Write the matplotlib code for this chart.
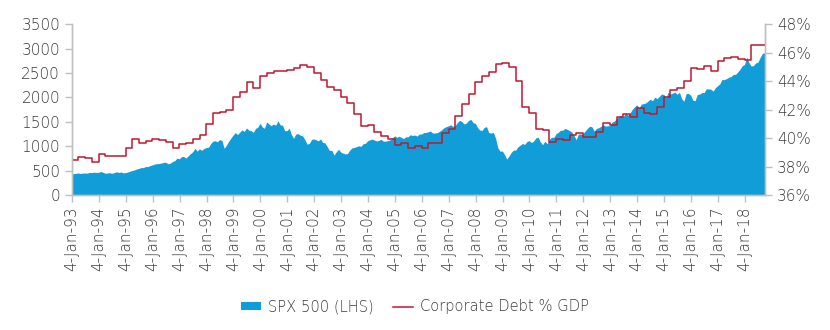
import matplotlib
matplotlib.use("Agg")
import matplotlib.pyplot as plt
import matplotlib.ticker as mticker
from matplotlib.patches import Patch
from matplotlib.lines import Line2D
import pandas as pd

# ---------------- data ----------------
spx_years = list(range(1993, 2019))
spx_monthly = {
    1993: [438.78, 443.38, 451.67, 440.19, 450.19, 450.53, 448.13, 463.56, 458.93, 467.83, 461.79, 466.45],
    1994: [481.61, 467.14, 445.77, 450.91, 456.50, 444.27, 458.26, 475.49, 462.69, 472.35, 453.69, 459.27],
    1995: [470.42, 487.39, 500.71, 514.71, 533.40, 544.75, 562.06, 561.88, 584.41, 581.50, 605.37, 615.93],
    1996: [636.02, 640.43, 645.50, 654.17, 669.12, 670.63, 639.95, 651.99, 687.33, 705.27, 757.02, 740.74],
    1997: [786.16, 790.82, 757.12, 801.34, 848.28, 885.14, 954.29, 899.47, 947.28, 914.62, 955.40, 970.43],
    1998: [980.28, 1049.34, 1101.75, 1111.75, 1090.82, 1133.84, 1120.67, 957.28, 1017.01, 1098.67, 1163.63, 1229.23],
    1999: [1279.64, 1238.33, 1286.37, 1335.18, 1301.84, 1372.71, 1328.72, 1320.41, 1282.71, 1362.93, 1388.91, 1469.25],
    2000: [1394.46, 1366.42, 1498.58, 1452.43, 1420.60, 1454.60, 1430.83, 1517.68, 1436.51, 1429.40, 1314.95, 1320.28],
    2001: [1366.01, 1239.94, 1160.33, 1249.46, 1255.82, 1224.42, 1211.23, 1133.58, 1040.94, 1059.78, 1139.45, 1148.08],
    2002: [1130.20, 1106.73, 1147.39, 1076.92, 1067.14, 989.82, 911.62, 916.07, 815.28, 885.76, 936.31, 879.82],
    2003: [855.70, 841.15, 848.18, 916.92, 963.59, 974.50, 990.31, 1008.01, 995.97, 1050.71, 1058.20, 1111.92],
    2004: [1131.13, 1144.94, 1126.21, 1107.30, 1120.68, 1140.84, 1101.72, 1104.24, 1114.58, 1130.20, 1173.82, 1211.92],
    2005: [1181.27, 1203.60, 1180.59, 1156.85, 1191.50, 1191.33, 1234.18, 1220.33, 1228.81, 1207.01, 1249.48, 1248.29],
    2006: [1280.08, 1280.66, 1294.83, 1310.61, 1270.09, 1270.20, 1276.66, 1303.82, 1335.85, 1377.94, 1400.63, 1418.30],
    2007: [1438.24, 1406.82, 1420.86, 1482.37, 1530.62, 1503.35, 1455.27, 1473.99, 1526.75, 1549.38, 1481.14, 1468.36],
    2008: [1378.55, 1330.63, 1322.70, 1385.59, 1400.38, 1280.00, 1267.38, 1282.83, 1166.36, 968.75, 896.24, 903.25],
    2009: [825.88, 735.09, 797.87, 872.81, 919.14, 919.32, 987.48, 1020.62, 1057.08, 1036.19, 1095.63, 1115.10],
    2010: [1073.87, 1104.49, 1169.43, 1186.69, 1089.41, 1030.71, 1101.60, 1049.33, 1141.20, 1183.26, 1180.55, 1257.64],
    2011: [1286.12, 1327.22, 1325.83, 1363.61, 1345.20, 1320.64, 1292.28, 1218.89, 1131.42, 1253.30, 1246.96, 1257.60],
    2012: [1312.41, 1365.68, 1408.47, 1397.91, 1310.33, 1362.16, 1379.32, 1406.58, 1440.67, 1412.16, 1416.18, 1426.19],
    2013: [1498.11, 1514.68, 1569.19, 1597.57, 1630.74, 1606.28, 1685.73, 1632.97, 1681.55, 1756.54, 1805.81, 1848.36],
    2014: [1782.59, 1859.45, 1872.34, 1883.95, 1923.57, 1960.23, 1930.67, 2003.37, 1972.29, 2018.05, 2067.56, 2058.90],
    2015: [1994.99, 2104.50, 2067.89, 2085.51, 2107.39, 2063.11, 2103.84, 1972.18, 1920.03, 2079.36, 2080.41, 2043.94],
    2016: [1940.24, 1932.23, 2059.74, 2065.30, 2096.95, 2098.86, 2173.60, 2170.95, 2168.27, 2126.15, 2198.81, 2238.83],
    2017: [2278.87, 2363.64, 2362.72, 2384.20, 2411.80, 2423.41, 2470.30, 2471.65, 2519.36, 2575.26, 2647.58, 2673.61],
    2018: [2823.81, 2713.83, 2640.87, 2648.05, 2705.27, 2718.37, 2816.29, 2901.52, 2913.98],
}
spx_start_date = "1993-01-04"
spx_start_value = 435.38
spx_end_date = "2018-10-05"
spx_end_value = 2885.57

debt_pct_gdp = [
    38.46, 38.65, 38.62, 38.34,
    38.85, 38.76, 38.74, 38.71,
    39.32, 39.90, 39.67, 39.81,
    39.93, 39.86, 39.70, 39.30,
    39.60, 39.65, 39.93, 40.19,
    41.00, 41.78, 41.82, 41.99,
    42.86, 43.20, 43.90, 43.50,
    44.39, 44.54, 44.70, 44.70,
    44.77, 44.93, 45.12, 45.00,
    44.58, 44.07, 43.56, 43.39,
    42.90, 42.48, 41.68, 40.86,
    40.93, 40.40, 40.16, 39.91,
    39.51, 39.63, 39.30, 39.46,
    39.27, 39.67, 39.67, 40.33,
    40.63, 41.54, 42.36, 43.11,
    43.93, 44.33, 44.65, 45.17,
    45.24, 45.00, 43.98, 42.15,
    41.78, 40.66, 40.58, 39.72,
    39.91, 39.84, 40.21, 40.37,
    40.05, 40.05, 40.45, 41.03,
    40.91, 41.45, 41.66, 41.50,
    42.08, 41.73, 41.68, 42.15,
    42.86, 43.37, 43.49, 44.04,
    44.95, 44.82, 45.08, 44.70,
    45.40, 45.59, 45.70, 45.56,
    45.50, 46.53, 46.53,
]
debt_start = "1993-01-01"

tick_years = list(range(1993, 2019))
tick_labels = ["4-Jan-%02d" % (y % 100) for y in tick_years]

# ---------------- build series ----------------
spx_dates = [pd.Timestamp(spx_start_date)]
spx_vals = [spx_start_value]
for y in spx_years:
    for m, v in enumerate(spx_monthly[y], start=1):
        spx_dates.append(pd.Timestamp(year=y, month=m, day=1) + pd.offsets.MonthEnd(0))
        spx_vals.append(v)
spx_dates.append(pd.Timestamp(spx_end_date))
spx_vals.append(spx_end_value)

debt_dates = list(pd.date_range(debt_start, periods=len(debt_pct_gdp), freq="QS"))
debt_dates.append(pd.Timestamp(spx_end_date))
debt_vals = [v / 100 for v in debt_pct_gdp] + [debt_pct_gdp[-1] / 100]

# ---------------- plot ----------------
plt.rcParams["font.family"] = ["DejaVu Sans"]
plt.rcParams["font.weight"] = "light"
text_color = "#3A3A3A"
spine_color = "#BFBFBF"
blue = "#119ED8"
red = "#C0182F"

fig = plt.figure(figsize=(8.3, 3.3), dpi=100)
ax = fig.add_axes([0.0867, 0.409, 0.835, 0.518])
ax2 = ax.twinx()

ax.fill_between(spx_dates, 0, spx_vals, color=blue, linewidth=0)
ax2.step(debt_dates, debt_vals, where="post", color=red, linewidth=1.1)

xmin, xmax = pd.Timestamp(spx_start_date), pd.Timestamp(spx_end_date)
ax.set_xlim(xmin, xmax)
ax.set_ylim(0, 3500)
ax.set_yticks(range(0, 3501, 500))
ax2.set_ylim(0.36, 0.48)
ax2.set_yticks([0.36, 0.38, 0.40, 0.42, 0.44, 0.46, 0.48])
ax2.yaxis.set_major_formatter(mticker.FuncFormatter(lambda v, p: "%d%%" % round(v * 100)))

ticks = [pd.Timestamp(year=y, month=1, day=4) for y in tick_years]
ax.set_xticks(ticks)
ax.set_xticklabels(tick_labels, rotation=90)

for a in (ax, ax2):
    a.spines["top"].set_visible(False)
    for s in ("left", "right", "bottom"):
        a.spines[s].set_color(spine_color)
        a.spines[s].set_linewidth(1.0)
    a.tick_params(colors=spine_color, labelcolor=text_color, labelsize=11, length=5, width=1)
ax.tick_params(axis="x", pad=3)

handles = [Patch(facecolor=blue, edgecolor="none"),
           Line2D([0], [0], color=red, linewidth=1.1)]
fig.legend(handles, ["SPX 500 (LHS)", "Corporate Debt % GDP"], loc="center",
           bbox_to_anchor=(0.5, 0.07), ncol=2, frameon=False, fontsize=10.6,
           labelcolor=text_color, handlelength=1.35, handleheight=0.48,
           columnspacing=1.35, handletextpad=0.45)

fig.savefig("out.png", dpi=100)
